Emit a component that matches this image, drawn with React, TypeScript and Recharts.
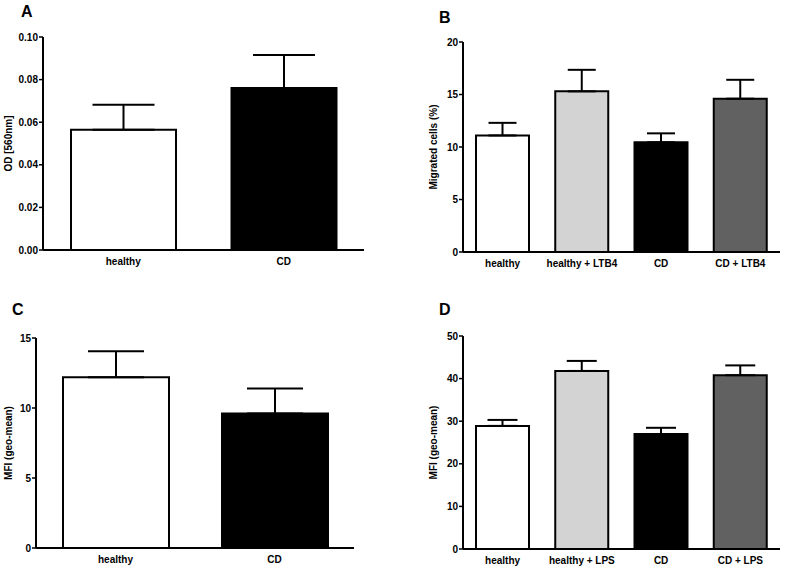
import { BarChart, Bar, XAxis, YAxis, ErrorBar, Cell } from "recharts";

// panel A – OD at 560nm
const catsA = ["healthy", "CD"];
const meanA = [0.0565, 0.076];
const semA = [0.0117, 0.0155];
const ticksA = [0, 0.02, 0.04, 0.06, 0.08, 0.1];

// panel B – migration
const catsB = ["healthy", "healthy + LTB4", "CD", "CD + LTB4"];
const meanB = [11.1, 15.3, 10.45, 14.6];
const semB = [1.2, 2.05, 0.85, 1.8];
const ticksB = [0, 5, 10, 15, 20];

// panel C – MFI
const catsC = ["healthy", "CD"];
const meanC = [12.2, 9.6];
const semC = [1.85, 1.8];
const ticksC = [0, 5, 10, 15];

// panel D – MFI with LPS
const catsD = ["healthy", "healthy + LPS", "CD", "CD + LPS"];
const meanD = [28.9, 41.8, 27.0, 40.8];
const semD = [1.4, 2.35, 1.45, 2.3];
const ticksD = [0, 10, 20, 30, 40, 50];

const fills2 = ["#ffffff", "#000000"];
const fills4 = ["#ffffff", "#d3d3d3", "#000000", "#616161"];

const FONT = '"Liberation Sans", Arial, Helvetica, sans-serif';
const X_AXIS_H = 20;

type PanelProps = {
  letter: string;
  left: number;
  top: number;
  width: number;
  height: number;
  margin: { top: number; right: number; bottom: number };
  yWidth: number;
  labelX: number;
  letterPos: { x: number; y: number };
  cats: string[];
  mean: number[];
  sem: number[];
  ticks: number[];
  fills: string[];
  barSize: number;
  capHalf: number; // ErrorBar width is the half-width of the cap
  yLabel: string;
  fmt?: (v: number) => string;
};

function Panel(p: PanelProps) {
  const data = p.cats.map((name, i) => ({ name, mean: p.mean[i], err: [0, p.sem[i]] }));
  const tickStyle = { fill: "#000", fontSize: 10, fontWeight: "bold", fontFamily: FONT };
  return (
    <div style={{ position: "absolute", left: p.left, top: p.top, width: p.width, height: p.height }}>
      <div
        style={{
          position: "absolute",
          left: p.letterPos.x,
          top: p.letterPos.y,
          fontFamily: FONT,
          fontWeight: "bold",
          fontSize: 16,
          lineHeight: "16px",
        }}
      >
        {p.letter}
      </div>
      <BarChart
        width={p.width}
        height={p.height}
        data={data}
        margin={{ top: p.margin.top, right: p.margin.right, bottom: p.margin.bottom - X_AXIS_H, left: 0 }}
      >
        <XAxis
          dataKey="name"
          height={X_AXIS_H}
          axisLine={{ stroke: "#000", strokeWidth: 2 }}
          tickLine={false}
          tickSize={5}
          tickMargin={3}
          tick={tickStyle}
          interval={0}
        />
        <YAxis
          width={p.yWidth}
          domain={[0, p.ticks[p.ticks.length - 1]]}
          ticks={p.ticks}
          allowDataOverflow
          axisLine={{ stroke: "#000", strokeWidth: 2 }}
          tickLine={{ stroke: "#000", strokeWidth: 1.5 }}
          tickSize={4}
          tickMargin={1}
          tick={tickStyle}
          tickFormatter={p.fmt}
          label={{
            content: (props: any) => {
              const vb = props.viewBox;
              const cy = vb.y + vb.height / 2;
              return (
                <text
                  x={p.labelX}
                  y={cy}
                  transform={`rotate(-90 ${p.labelX} ${cy})`}
                  textAnchor="middle"
                  dominantBaseline="central"
                  fontSize={10}
                  fontWeight="bold"
                  fontFamily={FONT}
                  fill="#000"
                >
                  {p.yLabel}
                </text>
              );
            },
          }}
        />
        <Bar dataKey="mean" barSize={p.barSize} stroke="#000" strokeWidth={2} isAnimationActive={false}>
          {data.map((d, i) => (
            <Cell key={d.name} fill={p.fills[i]} />
          ))}
          <ErrorBar dataKey="err" width={p.capHalf} stroke="#000" strokeWidth={2} direction="y" isAnimationActive={false} />
        </Bar>
      </BarChart>
    </div>
  );
}

export default function App() {
  return (
    <div style={{ position: "absolute", left: 0, top: 0, width: 788, height: 571, background: "#fff" }}>
      <Panel
        letter="A"
        left={0}
        top={0}
        width={400}
        height={290}
        margin={{ top: 37, right: 36, bottom: 40 }}
        yWidth={43}
        labelX={8}
        letterPos={{ x: 21, y: 4 }}
        cats={catsA}
        mean={meanA}
        sem={semA}
        ticks={ticksA}
        fills={fills2}
        barSize={105}
        capHalf={31}
        yLabel="OD [560nm]"
        fmt={(v) => v.toFixed(2)}
      />
      <Panel
        letter="B"
        left={400}
        top={0}
        width={388}
        height={290}
        margin={{ top: 42, right: 8, bottom: 38 }}
        yWidth={63}
        labelX={33}
        letterPos={{ x: 39, y: 10 }}
        cats={catsB}
        mean={meanB}
        sem={semB}
        ticks={ticksB}
        fills={fills4}
        barSize={53}
        capHalf={14}
        yLabel="Migrated cells (%)"
      />
      <Panel
        letter="C"
        left={0}
        top={290}
        width={400}
        height={281}
        margin={{ top: 48, right: 46, bottom: 23 }}
        yWidth={36}
        labelX={8}
        letterPos={{ x: 12, y: 12 }}
        cats={catsC}
        mean={meanC}
        sem={semC}
        ticks={ticksC}
        fills={fills2}
        barSize={106}
        capHalf={28}
        yLabel="MFI (geo-mean)"
      />
      <Panel
        letter="D"
        left={400}
        top={290}
        width={388}
        height={281}
        margin={{ top: 46, right: 8, bottom: 22 }}
        yWidth={63}
        labelX={33}
        letterPos={{ x: 39, y: 12 }}
        cats={catsD}
        mean={meanD}
        sem={semD}
        ticks={ticksD}
        fills={fills4}
        barSize={53}
        capHalf={15}
        yLabel="MFI (geo-mean)"
      />
    </div>
  );
}
